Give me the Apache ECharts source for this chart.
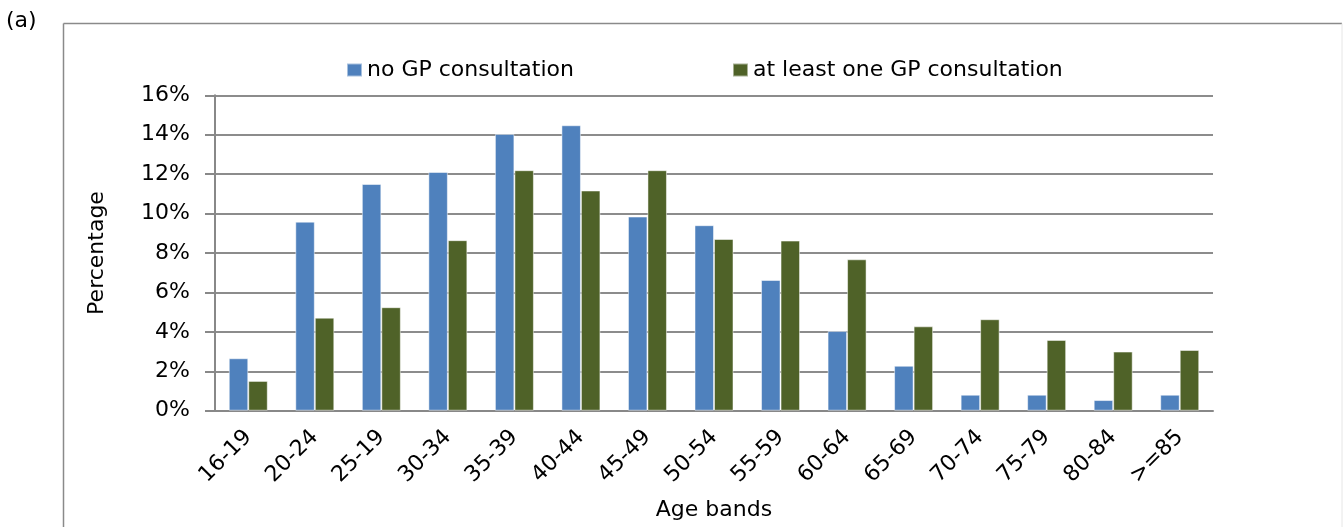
<!DOCTYPE html>
<html>
<head>
<meta charset="utf-8">
<script src="https://cdn.jsdelivr.net/npm/echarts@6/dist/echarts.min.js"></script>
<style>
html,body{margin:0;padding:0;background:#fff;}
#c{width:1343px;height:527px;}
</style>
</head>
<body>
<div id="c"></div>
<script>
var categories = ['16-19','20-24','25-19','30-34','35-39','40-44','45-49','50-54','55-59','60-64','65-69','70-74','75-79','80-84','>=85'];
var noGP = [2.66,9.59,11.5,12.11,14.04,14.48,9.85,9.41,6.63,4.04,2.28,0.81,0.81,0.54,0.81];
var atLeastOne = [1.51,4.72,5.25,8.65,12.2,11.17,12.2,8.71,8.63,7.68,4.28,4.64,3.59,3.0,3.08];
var yTicks = {min:0, max:16, interval:2};
var seriesNames = ['no GP consultation','at least one GP consultation'];

var FONT = '"DejaVu Sans", Verdana, sans-serif';
var FS = 22;
var chart = echarts.init(document.getElementById('c'), null, {renderer:'canvas'});
chart.setOption({
  animation:false,
  textStyle:{fontFamily:FONT},
  graphic:[
    {type:'line', shape:{x1:63.5,y1:23.5,x2:63.5,y2:527}, style:{stroke:'#8a8a8a',lineWidth:1.5}},
    {type:'line', shape:{x1:63.5,y1:23.5,x2:1342,y2:23.5}, style:{stroke:'#8a8a8a',lineWidth:1.5}},
    {type:'line', shape:{x1:1342,y1:23.5,x2:1342,y2:527}, style:{stroke:'#e6e6e6',lineWidth:1}},
    {type:'text', left:6, top:10, style:{text:'(a)', font:FS+'px '+FONT, fill:'#000'}}
  ],
  legend:{
    left:341, top:54,
    itemWidth:15, itemHeight:13, itemGap:158,
    icon:'rect',
    textStyle:{fontSize:FS, color:'#000', fontFamily:FONT},
    data:seriesNames
  },
  grid:{left:215, right:130, top:95.3, bottom:116.3, containLabel:false},
  xAxis:{
    type:'category',
    data:categories,
    axisLine:{lineStyle:{color:'#888888',width:2}},
    axisTick:{show:false},
    axisLabel:{rotate:45, margin:23, fontSize:FS, color:'#000', fontFamily:FONT, interval:0},
    name:'Age bands', nameLocation:'middle', nameGap:89,
    nameTextStyle:{fontSize:FS, color:'#000', fontFamily:FONT}
  },
  yAxis:{
    type:'value',
    min:yTicks.min, max:yTicks.max, interval:yTicks.interval,
    axisLine:{show:true, lineStyle:{color:'#888888',width:2}},
    axisTick:{show:true, length:10, lineStyle:{color:'#888888',width:2}},
    splitLine:{lineStyle:{color:'#8c8c8c',width:2}},
    axisLabel:{formatter:'{value}%', margin:25, fontSize:FS, color:'#000', fontFamily:FONT},
    name:'Percentage', nameLocation:'middle', nameGap:107,
    nameTextStyle:{fontSize:FS, color:'#000', fontFamily:FONT}
  },
  series:[
    {name:seriesNames[0], type:'bar', data:noGP, barWidth:19.5, barGap:'0%',
     itemStyle:{color:'#4F81BD', borderColor:'rgba(255,255,255,0.5)', borderWidth:1}},
    {name:seriesNames[1], type:'bar', data:atLeastOne, barWidth:19.5, barGap:'0%',
     itemStyle:{color:'#4F6228', borderColor:'rgba(255,255,255,0.5)', borderWidth:1}}
  ]
});
</script>
</body>
</html>
